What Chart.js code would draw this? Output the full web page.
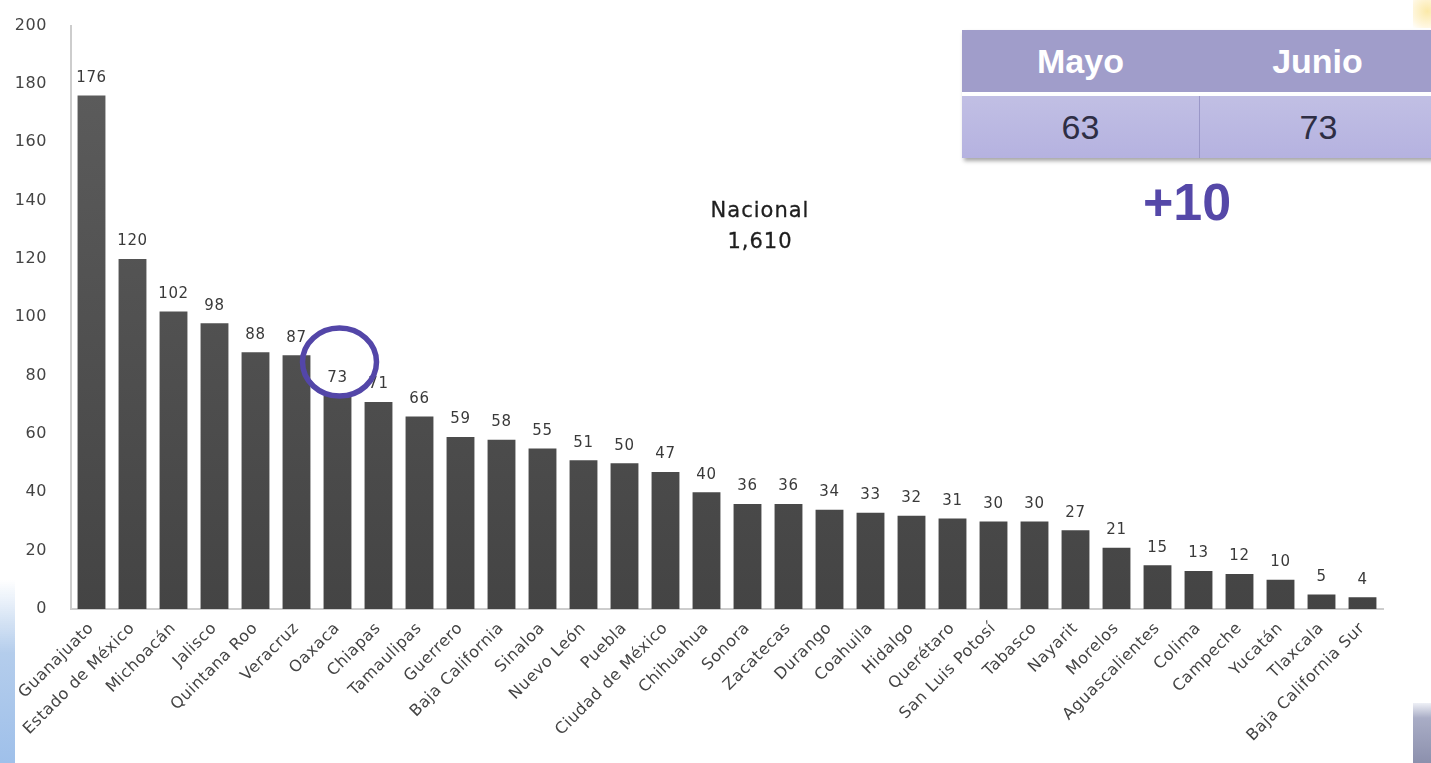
<!DOCTYPE html>
<html>
<head>
<meta charset="utf-8">
<script src="https://cdn.jsdelivr.net/npm/chart.js@4"></script>
<style>
  html, body { margin: 0; padding: 0; background: #fff; }
  #wrap { position: relative; width: 1431px; height: 763px; overflow: hidden; }
  #side { position: absolute; left: 0; top: 580px; width: 15px; height: 183px;
          background: linear-gradient(to bottom, rgba(200,220,240,0), #b4cdec 40%, #9fc0ea); }
  #deco1 { position: absolute; left: 1413px; top: 0; width: 18px; height: 28px;
           background: radial-gradient(circle at 80% 40%, #fbe9a8, #fff7e0 70%, #fff); }
  #deco2 { position: absolute; left: 1413px; top: 703px; width: 18px; height: 60px;
           background: linear-gradient(to bottom, #eef0f6, #a9adc6 25%, #8c90ad); }
  #tabla { position: absolute; left: 962px; top: 30px; width: 480px; height: 128px;
           font-family: "Liberation Sans", Arial, sans-serif; box-shadow: 2px 3px 4px rgba(0,0,0,0.35); }
  #tabla .cab { height: 62px; background: #a09dca; display: flex; }
  #tabla .sep { height: 4px; background: #fff; }
  #tabla .cue { height: 62px; background: linear-gradient(#c1bfe4, #b5b2e0); display: flex; }
  #tabla .c { width: 237px; display: flex; align-items: center; justify-content: center; font-size: 34px; }
  #tabla .cab .c { color: #fff; font-weight: bold; }
  #tabla .cue .c { color: #2e2e44; }
  #tabla .cue .c + .c { border-left: 1px solid #9a97c8; }
  #dif { position: absolute; left: 1087px; top: 172px; width: 200px; text-align: center;
         font: bold 52px "Liberation Sans", Arial, sans-serif; color: #5548a8; }
  #nacional { position: absolute; left: 660px; top: 195px; width: 200px; text-align: center;
              font: 21px "DejaVu Sans", sans-serif; letter-spacing: 1px; color: #1e1e1e; line-height: 31px;
              -webkit-text-stroke: 0.3px #1e1e1e; }
</style>
</head>
<body>
<div id="wrap">
  <canvas id="estadosChart" width="1431" height="763"></canvas>
  <div id="side"></div>
  <div id="deco1"></div>
  <div id="deco2"></div>
  <div id="nacional">Nacional<br>1,610</div>
  <div id="tabla">
    <div class="cab"><div class="c" id="mesA"></div><div class="c" id="mesB"></div></div>
    <div class="sep"></div>
    <div class="cue"><div class="c" id="valA"></div><div class="c" id="valB"></div></div>
  </div>
  <div id="dif"></div>
</div>
<script>
const estados = ['Guanajuato', 'Estado de México', 'Michoacán', 'Jalisco', 'Quintana Roo', 'Veracruz',
    'Oaxaca', 'Chiapas', 'Tamaulipas', 'Guerrero', 'Baja California', 'Sinaloa', 'Nuevo León', 'Puebla',
    'Ciudad de México', 'Chihuahua', 'Sonora', 'Zacatecas', 'Durango', 'Coahuila', 'Hidalgo', 'Querétaro',
    'San Luis Potosí', 'Tabasco', 'Nayarit', 'Morelos', 'Aguascalientes', 'Colima', 'Campeche', 'Yucatán',
    'Tlaxcala', 'Baja California Sur'];
const casos = [176, 120, 102, 98, 88, 87, 73, 71, 66, 59, 58, 55, 51, 50, 47, 40, 36, 36, 34, 33, 32, 31,
    30, 30, 27, 21, 15, 13, 12, 10, 5, 4];
const meses = ['Mayo', 'Junio'];
const valoresMes = [63, 73];
const estadoMarcado = 'Oaxaca';

document.getElementById('mesA').textContent = meses[0];
document.getElementById('mesB').textContent = meses[1];
document.getElementById('valA').textContent = valoresMes[0];
document.getElementById('valB').textContent = valoresMes[1];
document.getElementById('dif').textContent = '+' + (valoresMes[1] - valoresMes[0]);

const fuente = '"DejaVu Sans", sans-serif';

// letras un poco mas separadas, parecido a la fuente original
const espaciado = {
    id: 'espaciado',
    beforeInit(chart) { chart.ctx.letterSpacing = '0.6px'; },
    beforeUpdate(chart) { chart.ctx.letterSpacing = '0.6px'; },
    beforeDraw(chart) { chart.ctx.letterSpacing = '0.6px'; }
};

// etiquetas encima de las barras y circulo del estado marcado
const etiquetas = {
    id: 'etiquetas',
    afterDatasetsDraw(chart) {
        const ctx = chart.ctx;
        const meta = chart.getDatasetMeta(0);
        ctx.save();
        ctx.font = '15px ' + fuente;
        ctx.fillStyle = '#3a3a3a';
        ctx.textAlign = 'center';
        ctx.textBaseline = 'bottom';
        meta.data.forEach((bar, i) => {
            ctx.fillText(casos[i], bar.x, bar.y - 10);
        });
        const idx = estados.indexOf(estadoMarcado);
        const b = meta.data[idx];
        ctx.strokeStyle = '#5346a8';
        ctx.lineWidth = 5.5;
        ctx.beginPath();
        ctx.ellipse(b.x + 2, b.y - 34, 37, 34, 0, 0, Math.PI * 2);
        ctx.stroke();
        ctx.restore();
    }
};

new Chart(document.getElementById('estadosChart'), {
    type: 'bar',
    data: {
        labels: estados,
        datasets: [{
            data: casos,
            backgroundColor: (c) => {
                const area = c.chart.chartArea;
                if (!area) return '#4a4a4a';
                const g = c.chart.ctx.createLinearGradient(0, area.top, 0, area.bottom);
                g.addColorStop(0, '#5e5e5e');
                g.addColorStop(1, '#444444');
                return g;
            },
            categoryPercentage: 0.68,
            barPercentage: 1.0
        }]
    },
    options: {
        responsive: false,
        animation: false,
        layout: { padding: { top: 21, right: 48, left: 0, bottom: 0 } },
        plugins: { legend: { display: false }, tooltip: { enabled: false } },
        scales: {
            x: {
                grid: { display: false },
                border: { color: '#cdcdcd', width: 2 },
                ticks: {
                    color: '#444', font: { family: fuente, size: 16 },
                    minRotation: 45, maxRotation: 45, autoSkip: false, padding: 2
                },
                afterFit: (s) => { s.height = 154; }
            },
            y: {
                min: 0, max: 200,
                grid: { display: false },
                border: { color: '#cdcdcd', width: 2 },
                ticks: { stepSize: 20, color: '#444', font: { family: fuente, size: 16 }, padding: 16 },
                afterFit: (s) => { s.width = 71; }
            }
        }
    },
    plugins: [espaciado, etiquetas]
});
</script>
</body>
</html>
